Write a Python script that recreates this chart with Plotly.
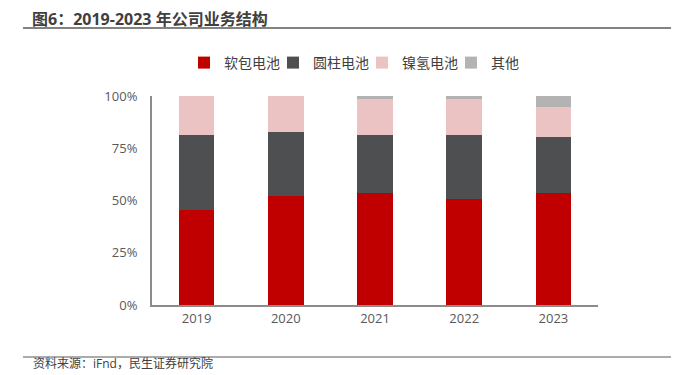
import plotly.graph_objects as go

years = ["2019", "2020", "2021", "2022", "2023"]
soft_pack = [45.5, 52.2, 53.6, 50.9, 53.7]
cylindrical = [36.0, 30.6, 27.6, 30.3, 26.5]
nimh = [18.5, 17.2, 17.2, 17.2, 14.4]
others = [0.0, 0.0, 1.6, 1.6, 5.4]

series_names = ["软包电池", "圆柱电池", "镍氢电池", "其他"]
series_values = [soft_pack, cylindrical, nimh, others]
colors = ["#C00000", "#4E4F51", "#EBC3C3", "#B3B3B3"]

font_family = "'Open Sans', 'Noto Sans CJK SC', sans-serif"

# plot area in figure pixels (page has an 8px body margin)
L, R, T, B = 144, 590, 88, 297
PW, PH = R - L, B - T

def px(x):
    return (x - L) / PW

def py(y):
    return (B - y) / PH

fig = go.Figure()
for name, vals, c in zip(series_names, series_values, colors):
    fig.add_trace(go.Bar(x=years, y=[v / 100 for v in vals], name=name,
                         marker=dict(color=c, line=dict(width=0))))

fig.update_layout(
    barmode="stack",
    bargap=0.6,
    width=679, height=375,
    margin=dict(l=L, r=679 - R, t=T, b=375 - B, autoexpand=False),
    paper_bgcolor="white", plot_bgcolor="white",
    font=dict(family=font_family, color="#595959", size=12),
    showlegend=True,
    legend=dict(orientation="h", x=px(176), xanchor="left", y=py(55), yanchor="middle",
                font=dict(size=14, color="#404040"), itemwidth=30,
                entrywidth=44, entrywidthmode="pixels",
                traceorder="normal", itemclick=False),
    xaxis=dict(showline=True, linecolor="#8C8C8C", linewidth=2, ticks="",
               tickfont=dict(size=13, color="#595959"), showgrid=False),
    yaxis=dict(range=[0, 1], tickvals=[0, 0.25, 0.5, 0.75, 1.0],
               ticktext=["0%", "25%", "50%", "75%", "100%"],
               showline=True, linecolor="#8C8C8C", linewidth=2, ticks="",
               showgrid=False, zeroline=False,
               tickfont=dict(size=13, color="#595959"), ticklabelstandoff=10),
)

fig.add_annotation(text="<b>图6：2019-2023 年公司业务结构</b>", xref="paper", yref="paper",
                   x=px(23), xanchor="left", y=py(11), yanchor="middle", borderpad=0,
                   showarrow=False, font=dict(size=16, color="#404040", family=font_family))

fig.add_shape(type="line", xref="paper", yref="paper",
              x0=px(15), x1=px(679),
              y0=py(20), y1=py(20),
              line=dict(color="#595959", width=1.5))
fig.add_shape(type="line", xref="paper", yref="paper",
              x0=px(15), x1=px(679),
              y0=py(349), y1=py(349),
              line=dict(color="#595959", width=1))
fig.add_annotation(text="资料来源：iFnd，民生证券研究院", xref="paper", yref="paper",
                   x=px(23), xanchor="left", y=py(366), yanchor="bottom",
                   showarrow=False, font=dict(size=12, color="#404040", family=font_family))

fig.write_html("out.html")
